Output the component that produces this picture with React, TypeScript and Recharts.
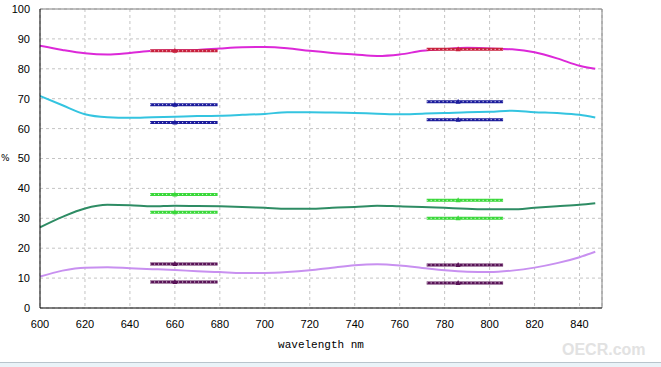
import React from 'react';
import { LineChart, Line, XAxis, YAxis, CartesianGrid, ReferenceLine } from 'recharts';

const wavelengths = [600, 610, 620, 630, 640, 650, 660, 670, 680, 690, 700, 710, 720, 730, 740, 750, 760, 770, 780, 790, 800, 810, 820, 830, 840, 847];
const magenta = [87.7, 86.3, 85.2, 84.8, 85.3, 86, 86.2, 86.3, 86.8, 87.2, 87.3, 86.9, 86, 85.3, 84.8, 84.3, 84.8, 86, 86.6, 87, 86.8, 86.5, 85.5, 83.5, 81, 80];
const cyan = [70.9, 67.8, 64.8, 63.8, 63.6, 63.8, 64, 64.2, 64.3, 64.6, 64.9, 65.5, 65.5, 65.4, 65.2, 65, 64.8, 65, 65.2, 65.5, 65.6, 66, 65.5, 65.2, 64.6, 63.7];
const green = [27, 30.5, 33.3, 34.5, 34.4, 34, 34.2, 34.1, 34, 33.8, 33.5, 33.2, 33.2, 33.5, 33.8, 34.2, 34, 33.8, 33.5, 33.2, 33, 33, 33.5, 34, 34.5, 35];
const violet = [10.5, 12.5, 13.5, 13.6, 13.3, 13, 12.7, 12.3, 12, 11.7, 11.7, 12, 12.6, 13.5, 14.3, 14.6, 14.2, 13.4, 12.6, 12.1, 12, 12.5, 13.5, 15, 17, 18.8];

const leftBand = [649, 660, 679];
const rightBand = [772, 786, 806];
const redLevels = [86, 86.5];
const blueUpper = [68, 69];
const blueLower = [62, 63];
const greenUpper = [38, 36];
const greenLower = [32, 30];
const purpleUpper = [14.7, 14.4];
const purpleLower = [8.7, 8.4];

const xTicks = [600, 620, 640, 660, 680, 700, 720, 740, 760, 780, 800, 820, 840];
const yTicks = [0, 10, 20, 30, 40, 50, 60, 70, 80, 90, 100];

const curveData = wavelengths.map((w, i) => ({ w, magenta: magenta[i], cyan: cyan[i], green: green[i], violet: violet[i] }));

const seg = (xs: number[], v: number) => xs.map((w) => ({ w, v }));

const segments = [
  { key: 'redL', data: seg(leftBand, redLevels[0]), color: '#c8203c' },
  { key: 'redR', data: seg(rightBand, redLevels[1]), color: '#c8203c' },
  { key: 'buL', data: seg(leftBand, blueUpper[0]), color: '#1c1c9c' },
  { key: 'buR', data: seg(rightBand, blueUpper[1]), color: '#1c1c9c' },
  { key: 'blL', data: seg(leftBand, blueLower[0]), color: '#1c1c9c' },
  { key: 'blR', data: seg(rightBand, blueLower[1]), color: '#1c1c9c' },
  { key: 'guL', data: seg(leftBand, greenUpper[0]), color: '#3ad83a' },
  { key: 'guR', data: seg(rightBand, greenUpper[1]), color: '#3ad83a' },
  { key: 'glL', data: seg(leftBand, greenLower[0]), color: '#3ad83a' },
  { key: 'glR', data: seg(rightBand, greenLower[1]), color: '#3ad83a' },
  { key: 'puL', data: seg(leftBand, purpleUpper[0]), color: '#5a1458' },
  { key: 'puR', data: seg(rightBand, purpleUpper[1]), color: '#5a1458' },
  { key: 'plL', data: seg(leftBand, purpleLower[0]), color: '#5a1458' },
  { key: 'plR', data: seg(rightBand, purpleLower[1]), color: '#5a1458' },
];

const midDot = (color: string) => (props: any) => {
  const { cx, cy, index } = props;
  if (index !== 1) return <g key={`d${index}`} />;
  return <path key={`d${index}`} d={`M${cx - 2.5},${cy + 2} L${cx + 2.5},${cy + 2} L${cx},${cy - 3} Z`} fill={color} />;
};

const tickStyle = { fontFamily: 'Liberation Sans, Arial, sans-serif', fontSize: 11, fill: '#000' };

export default function App() {
  return (
    <div style={{ position: 'absolute', left: 0, top: 0, width: 661, height: 367, background: '#fff', overflow: 'hidden' }}>
      <LineChart width={661} height={367} data={curveData} margin={{ top: 9, right: 59, bottom: 19, left: 10 }}>
        <CartesianGrid stroke="#c4c4c4" strokeDasharray="3 3" />
        <XAxis
          dataKey="w"
          type="number"
          domain={[600, 850]}
          ticks={xTicks}
          allowDataOverflow
          height={40}
          tickLine={false}
          tickSize={0}
          tickMargin={12}
          axisLine={{ stroke: '#000' }}
          tick={tickStyle}
          label={{ value: 'wavelength nm', position: 'insideBottom', offset: 0, style: { fontFamily: 'Liberation Mono, DejaVu Sans Mono, monospace', fontSize: 11, fill: '#000' } }}
        />
        <YAxis
          type="number"
          domain={[0, 100]}
          ticks={yTicks}
          width={30}
          tickLine={false}
          tickSize={0}
          tickMargin={10}
          axisLine={{ stroke: '#000' }}
          tick={tickStyle}
        />
        <ReferenceLine y={100} stroke="#808080" />
        <ReferenceLine x={850} stroke="#808080" />
        <Line dataKey="magenta" type="monotone" stroke="#dc28d8" strokeWidth={2} dot={false} isAnimationActive={false} />
        <Line dataKey="cyan" type="monotone" stroke="#34c4e0" strokeWidth={2} dot={false} isAnimationActive={false} />
        <Line dataKey="green" type="monotone" stroke="#2e8c64" strokeWidth={2} dot={false} isAnimationActive={false} />
        <Line dataKey="violet" type="monotone" stroke="#c890f0" strokeWidth={2} dot={false} isAnimationActive={false} />
        {segments.map((s) => (
          <Line key={s.key} data={s.data} dataKey="v" type="linear" stroke={s.color} strokeWidth={3} dot={midDot(s.color)} isAnimationActive={false} />
        ))}
        {segments.map((s) => (
          <Line key={s.key + 'o'} data={s.data} dataKey="v" type="linear" stroke="#ffffff" strokeWidth={1} strokeDasharray="1 3" dot={false} isAnimationActive={false} />
        ))}
      </LineChart>
      <div style={{ position: 'absolute', left: 1, top: 153, fontFamily: 'DejaVu Sans, sans-serif', fontSize: 9, color: '#000' }}>%</div>
      <div style={{ position: 'absolute', left: 562, top: 341, fontFamily: 'Liberation Sans, Arial, sans-serif', fontWeight: 'bold', fontSize: 16, color: '#e2e2e2', whiteSpace: 'nowrap' }}>OECR.com</div>
      <div style={{ position: 'absolute', left: 0, top: 362, width: 661, height: 5, background: '#eaf3f8', borderTop: '1px solid #b8c4cc' }} />
    </div>
  );
}
